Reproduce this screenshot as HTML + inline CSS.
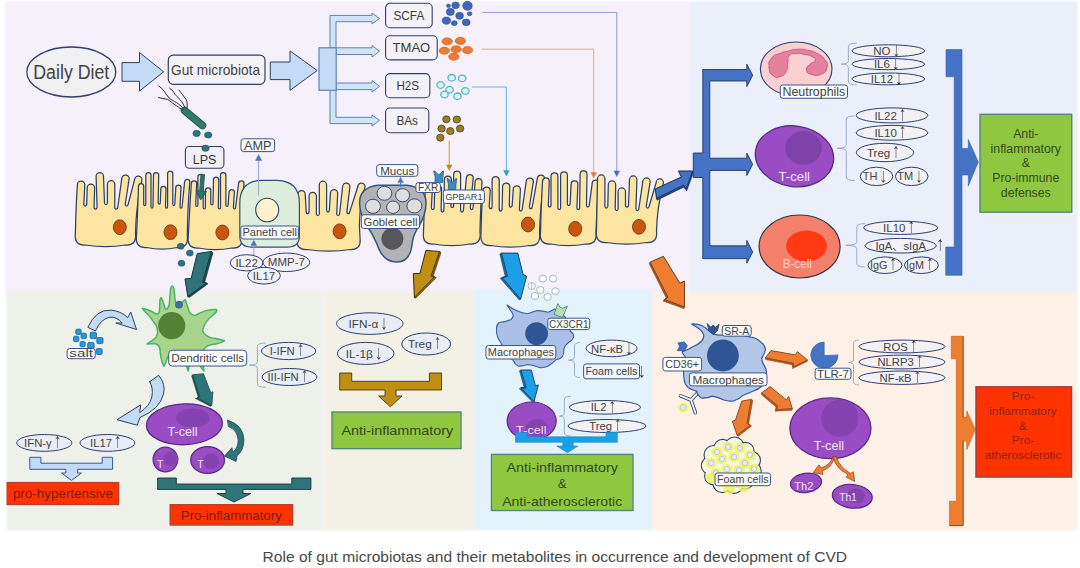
<!DOCTYPE html>
<html lang="en"><head><meta charset="utf-8"><title>Role of gut microbiotas and their metabolites in CVD</title>
<style>html,body{margin:0;padding:0;background:#fff;}svg{display:block;}</style></head>
<body>
<svg width="1080" height="568" viewBox="0 0 1080 568" font-family='"Liberation Sans", "Noto Sans CJK SC", sans-serif'>
<rect x="0" y="0" width="1080" height="568" rx="0" fill="#ffffff" stroke="none" stroke-width="1"/>
<defs><filter id="soft" x="-2%" y="-2%" width="104%" height="104%"><feGaussianBlur stdDeviation="1.1"/></filter></defs>
<g filter="url(#soft)">
<rect x="5" y="1.5" width="1072.5" height="292.5" rx="0" fill="#f5f0f9" stroke="none" stroke-width="1"/>
<rect x="690" y="1.5" width="387.5" height="290.3" rx="0" fill="#ebeff9" stroke="none" stroke-width="1"/>
<rect x="6.5" y="292.7" width="315" height="237.8" rx="0" fill="#eef1ea" stroke="none" stroke-width="1"/>
<rect x="321.5" y="292.2" width="3" height="238.3" rx="0" fill="#f1f1ec" stroke="none" stroke-width="1"/>
<rect x="324.5" y="291.4" width="150" height="239.1" rx="0" fill="#f3f0e5" stroke="none" stroke-width="1"/>
<rect x="474.5" y="290.2" width="177.5" height="240.1" rx="0" fill="#e3f2fb" stroke="none" stroke-width="1"/>
<rect x="652" y="293" width="425.5" height="237.3" rx="0" fill="#fdf0e6" stroke="none" stroke-width="1"/>
</g>
<ellipse cx="71.3" cy="72" rx="44.5" ry="25" fill="#f1f0f3" stroke="#2f3f66" stroke-width="1.3" />
<text x="71.3" y="79.2" font-size="19.5" fill="#444" text-anchor="middle"  textLength="76" lengthAdjust="spacingAndGlyphs">Daily Diet</text>
<polygon points="122,62.6 139.5,62.6 139.5,52.5 163.6,71.8 139.5,91 139.5,81.3 122,81.3" fill="#c3dbf5" stroke="#2f3f66" stroke-width="1" stroke-linejoin="round" />
<rect x="168.3" y="55.2" width="96.7" height="29.1" rx="5" fill="#f4f1f7" stroke="#2f3f66" stroke-width="1.2"/>
<text x="215.5" y="74.8" font-size="14.5" fill="#444" text-anchor="middle"  textLength="89" lengthAdjust="spacingAndGlyphs">Gut microbiota</text>
<polygon points="270.3,62 290,62 290,50.9 317.2,70.5 290,90.3 290,79.6 270.3,79.6" fill="#c3dbf5" stroke="#2f3f66" stroke-width="1" stroke-linejoin="round" />
<polygon points="330,48 330,15.4 372,15.4 372,13 379.5,18.5 372,24 372,21.7 336,21.7 336,48" fill="#d3e3f6" stroke="#5f82b8" stroke-width="1" stroke-linejoin="round" />
<polygon points="330,90 330,123.6 372,123.6 372,126 379.5,120.4 372,115 372,117.3 336,117.3 336,90" fill="#d3e3f6" stroke="#5f82b8" stroke-width="1" stroke-linejoin="round" />
<polygon points="336,47.8 372,47.8 372,45.5 379.5,51.2 372,57 372,54.5 336,54.5" fill="#d3e3f6" stroke="#5f82b8" stroke-width="1" stroke-linejoin="round" />
<polygon points="336,83 372,83 372,80.6 379.5,86.3 372,92 372,89.6 336,89.6" fill="#d3e3f6" stroke="#5f82b8" stroke-width="1" stroke-linejoin="round" />
<rect x="319" y="47.8" width="17.2" height="42.5" rx="0" fill="#c3dbf5" stroke="#5f82b8" stroke-width="1.2"/>
<rect x="385.6" y="3.3" width="46.6" height="24.5" rx="4.5" fill="#f4f1f7" stroke="#2f3f66" stroke-width="1.1"/>
<text x="408.9" y="20.1" font-size="12.8" fill="#3a3a3a" text-anchor="middle"  textLength="30.8" lengthAdjust="spacingAndGlyphs">SCFA</text>
<rect x="385.6" y="35.8" width="51.6" height="24.1" rx="4.5" fill="#f4f1f7" stroke="#2f3f66" stroke-width="1.1"/>
<text x="411.4" y="52.4" font-size="12.8" fill="#3a3a3a" text-anchor="middle"  textLength="37.8" lengthAdjust="spacingAndGlyphs">TMAO</text>
<rect x="385.6" y="73.6" width="44.2" height="24.1" rx="4.5" fill="#f4f1f7" stroke="#2f3f66" stroke-width="1.1"/>
<text x="407.7" y="90.2" font-size="12.8" fill="#3a3a3a" text-anchor="middle"  textLength="22.6" lengthAdjust="spacingAndGlyphs">H2S</text>
<rect x="385.6" y="108" width="43.2" height="24.8" rx="4.5" fill="#f4f1f7" stroke="#2f3f66" stroke-width="1.1"/>
<text x="407.2" y="125" font-size="12.8" fill="#3a3a3a" text-anchor="middle"  textLength="21.6" lengthAdjust="spacingAndGlyphs">BAs</text>
<ellipse cx="467.5" cy="5.8" rx="4.8" ry="4.5" fill="#3f66b8" stroke="#2d4f9a" stroke-width="0.6" />
<ellipse cx="455.6" cy="5.3" rx="3.8" ry="3.4" fill="#3f66b8" stroke="#2d4f9a" stroke-width="0.6" />
<ellipse cx="448.5" cy="5.8" rx="2" ry="1.8" fill="#3f66b8" stroke="#2d4f9a" stroke-width="0.6" />
<ellipse cx="450.3" cy="11.9" rx="4" ry="3.6" fill="#3f66b8" stroke="#2d4f9a" stroke-width="0.6" />
<ellipse cx="459.6" cy="15.8" rx="3.9" ry="3.5" fill="#3f66b8" stroke="#2d4f9a" stroke-width="0.6" />
<ellipse cx="469.6" cy="13.7" rx="2.3" ry="2" fill="#3f66b8" stroke="#2d4f9a" stroke-width="0.6" />
<ellipse cx="446.4" cy="20.6" rx="4.2" ry="3.6" fill="#3f66b8" stroke="#2d4f9a" stroke-width="0.6" />
<ellipse cx="454.3" cy="23.2" rx="2.9" ry="2.4" fill="#3f66b8" stroke="#2d4f9a" stroke-width="0.6" />
<ellipse cx="466.2" cy="22.4" rx="3.9" ry="3.3" fill="#3f66b8" stroke="#2d4f9a" stroke-width="0.6" />
<ellipse cx="447.2" cy="41.4" rx="5.2" ry="3.6" fill="#ee7a30" stroke="#c9601c" stroke-width="0.6" />
<ellipse cx="460.4" cy="40.9" rx="5.2" ry="3.6" fill="#ee7a30" stroke="#c9601c" stroke-width="0.6" />
<ellipse cx="444.3" cy="50.7" rx="5.2" ry="3.6" fill="#ee7a30" stroke="#c9601c" stroke-width="0.6" />
<ellipse cx="456.1" cy="49.3" rx="5.2" ry="3.6" fill="#ee7a30" stroke="#c9601c" stroke-width="0.6" />
<ellipse cx="467.5" cy="50.1" rx="5.2" ry="3.6" fill="#ee7a30" stroke="#c9601c" stroke-width="0.6" />
<ellipse cx="453.8" cy="56.7" rx="5.2" ry="3.6" fill="#ee7a30" stroke="#c9601c" stroke-width="0.6" />
<ellipse cx="451.7" cy="77.8" rx="3.7" ry="3.3" fill="#def5f8" stroke="#4fb6ca" stroke-width="1.3" />
<ellipse cx="462.2" cy="78.4" rx="3.7" ry="3.3" fill="#def5f8" stroke="#4fb6ca" stroke-width="1.3" />
<ellipse cx="440.6" cy="85" rx="3.7" ry="3.3" fill="#def5f8" stroke="#4fb6ca" stroke-width="1.3" />
<ellipse cx="449.6" cy="89.7" rx="3.7" ry="3.3" fill="#def5f8" stroke="#4fb6ca" stroke-width="1.3" />
<ellipse cx="465.4" cy="91" rx="3.7" ry="3.3" fill="#def5f8" stroke="#4fb6ca" stroke-width="1.3" />
<ellipse cx="444.5" cy="94.5" rx="3.7" ry="3.3" fill="#def5f8" stroke="#4fb6ca" stroke-width="1.3" />
<ellipse cx="457.5" cy="96.3" rx="3.7" ry="3.3" fill="#def5f8" stroke="#4fb6ca" stroke-width="1.3" />
<ellipse cx="446.4" cy="119.3" rx="3.7" ry="3.5" fill="#9a7d22" stroke="#4f4018" stroke-width="0.8" />
<ellipse cx="456.9" cy="119.5" rx="3.7" ry="3.5" fill="#9a7d22" stroke="#4f4018" stroke-width="0.8" />
<ellipse cx="460.1" cy="128.5" rx="3.7" ry="3.5" fill="#9a7d22" stroke="#4f4018" stroke-width="0.8" />
<ellipse cx="450.3" cy="131.1" rx="3.7" ry="3.5" fill="#9a7d22" stroke="#4f4018" stroke-width="0.8" />
<ellipse cx="441.6" cy="128.5" rx="3.7" ry="3.5" fill="#9a7d22" stroke="#4f4018" stroke-width="0.8" />
<ellipse cx="440.3" cy="137.7" rx="3.7" ry="3.5" fill="#9a7d22" stroke="#4f4018" stroke-width="0.8" />
<path d="M482.3 12.4 L616.8 12.4 L616.8 171" fill="none" stroke="#8b9bd0" stroke-width="1" stroke-linejoin="round" stroke-linecap="round" />
<polygon points="614,171 619.6,171 616.8,176.5" fill="#4a6fc0" stroke="#4a6fc0" stroke-width="0.5" stroke-linejoin="round" />
<path d="M482.3 49.2 L593.7 49.2 L593.7 172.5" fill="none" stroke="#f0a878" stroke-width="1" stroke-linejoin="round" stroke-linecap="round" />
<polygon points="590.9,172.5 596.5,172.5 593.7,178" fill="#ee7a30" stroke="#ee7a30" stroke-width="0.5" stroke-linejoin="round" />
<path d="M472.3 87 L506.4 87 L506.4 170.5" fill="none" stroke="#62b4e0" stroke-width="1" stroke-linejoin="round" stroke-linecap="round" />
<polygon points="503.6,170.5 509.2,170.5 506.4,176" fill="#2b9bd8" stroke="#2b9bd8" stroke-width="0.5" stroke-linejoin="round" />
<path d="M449.2 141.5 L449.2 165" fill="none" stroke="#c9a035" stroke-width="1" stroke-linejoin="round" stroke-linecap="round" />
<polygon points="446.4,165 452,165 449.2,170.5" fill="#b98d1c" stroke="#b98d1c" stroke-width="0.5" stroke-linejoin="round" />
<path d="M85.4 245 Q73.8 245.8 75.4 233 Q75.9 206 77.4 184.7 A3.7 3.7 0 0 1 84.8 184.7 L83.8 204.5 A1.5 2.1 0 0 0 86.7 204.5 L87.2 187.7 A3.7 3.7 0 0 1 94.6 187.7 L94.1 207 A1.5 2.1 0 0 0 97.1 207 L96.1 176.3 A3.7 3.7 0 0 1 103.5 176.3 L104.5 203 A1.5 2.1 0 0 0 107.4 203 L107.4 184.2 A3.7 3.7 0 0 1 114.8 184.2 L114.8 207 A1.5 2.1 0 0 0 117.8 207 L121.8 178.7 A3.7 3.7 0 0 1 129.2 178.7 L125.2 204.5 A1.5 2.1 0 0 0 128.1 204.5 L134.6 179.7 A3.7 3.7 0 0 1 142 179.7 Q136 206 135.5 233 Q137.1 245.8 125.5 245 Q105.5 248.2 85.4 245 Z" fill="#fbe5a0" stroke="#2f3f66" stroke-width="1.25" stroke-linejoin="round" stroke-linecap="round" />
<ellipse cx="119.8" cy="227.2" rx="6.5" ry="7.4" fill="#c9560f" stroke="#7a3a10" stroke-width="0.9" />
<path d="M146.5 247.5 Q134.9 248.3 136.5 235.5 Q138 205 138.5 186.2 A2.6 2.6 0 0 1 143.7 186.2 L143.7 204 A1 1.5 0 0 0 145.8 204 L145.8 175.1 A2.6 2.6 0 0 1 151 175.1 L151 206.5 A1 1.5 0 0 0 153 206.5 L153.5 175.1 A2.6 2.6 0 0 1 158.7 175.1 L158.2 202.5 A1 1.5 0 0 0 160.3 202.5 L160.8 189 A2.6 2.6 0 0 1 166 189 L165.5 206.5 A1 1.5 0 0 0 167.6 206.5 L167.6 173.6 A2.6 2.6 0 0 1 172.8 173.6 L172.8 204 A1 1.5 0 0 0 174.8 204 L175.8 187.6 A2.6 2.6 0 0 1 181 187.6 L180 206.5 A1 1.5 0 0 0 182.1 206.5 L184.6 182 A2.6 2.6 0 0 1 189.8 182 Q187.8 205 187.3 235.5 Q188.9 248.3 177.3 247.5 Q161.9 250.7 146.5 247.5 Z" fill="#fbe5a0" stroke="#2f3f66" stroke-width="1.25" stroke-linejoin="round" stroke-linecap="round" />
<ellipse cx="170.5" cy="232.2" rx="6.5" ry="7.4" fill="#c9560f" stroke="#7a3a10" stroke-width="0.9" />
<path d="M198.3 248 Q186.7 248.8 188.3 236 Q189.8 206 191.3 183.5 A2.7 2.7 0 0 1 196.7 183.5 L195.7 204.9 A1.1 1.5 0 0 0 197.9 204.9 L197.9 176.6 A2.7 2.7 0 0 1 203.2 176.6 L203.2 207.4 A1.1 1.5 0 0 0 205.4 207.4 L205.4 190.5 A2.7 2.7 0 0 1 210.8 190.5 L210.8 203.4 A1.1 1.5 0 0 0 213 203.4 L213.5 179.4 A2.7 2.7 0 0 1 218.8 179.4 L218.3 207.4 A1.1 1.5 0 0 0 220.5 207.4 L220.5 175.2 A2.7 2.7 0 0 1 225.9 175.2 L225.9 204.9 A1.1 1.5 0 0 0 228.1 204.9 L229.1 191.7 A2.7 2.7 0 0 1 234.4 191.7 L233.4 207.4 A1.1 1.5 0 0 0 235.6 207.4 L238.6 183.5 A2.7 2.7 0 0 1 244 183.5 Q241.5 206 242 236 Q243.6 248.8 232 248 Q215.2 251.2 198.3 248 Z" fill="#fbe5a0" stroke="#2f3f66" stroke-width="1.25" stroke-linejoin="round" stroke-linecap="round" />
<ellipse cx="222.4" cy="232.5" rx="6.5" ry="7.4" fill="#c9560f" stroke="#7a3a10" stroke-width="0.9" />
<path d="M307 249.5 Q295.4 250.3 297 237.5 Q298.5 213 298 194.2 A3.6 3.6 0 0 1 305.2 194.2 L306.2 211.6 A1.4 2 0 0 0 309.1 211.6 L309.1 196 A3.6 3.6 0 0 1 316.4 196 L316.4 214 A1.5 2 0 0 0 319.3 214 L319.3 184.9 A3.6 3.6 0 0 1 326.6 184.9 L326.6 210.1 A1.4 2 0 0 0 329.4 210.1 L330.4 193.2 A3.6 3.6 0 0 1 337.7 193.2 L336.7 214 A1.5 2 0 0 0 339.6 214 L342.6 186.7 A3.6 3.6 0 0 1 349.9 186.7 L346.9 211.6 A1.4 2 0 0 0 349.8 211.6 L357.8 186.7 A3.6 3.6 0 0 1 365 186.7 Q357.5 213 360 237.5 Q361.6 250.3 350 249.5 Q328.5 252.7 307 249.5 Z" fill="#fbe5a0" stroke="#2f3f66" stroke-width="1.25" stroke-linejoin="round" stroke-linecap="round" />
<ellipse cx="339.6" cy="231.3" rx="6.5" ry="7.4" fill="#c9560f" stroke="#7a3a10" stroke-width="0.9" />
<path d="M433.5 244 Q421.9 244.8 423.5 232 Q424 209 425.5 187.5 A3.5 3.5 0 0 1 432.4 187.5 L431.4 207.6 A1.4 1.9 0 0 0 434.2 207.6 L434.7 188.5 A3.5 3.5 0 0 1 441.6 188.5 L441.1 210.1 A1.4 1.9 0 0 0 443.9 210.1 L444.4 179.5 A3.5 3.5 0 0 1 451.4 179.5 L450.9 206.1 A1.4 1.9 0 0 0 453.6 206.1 L453.6 174.5 A3.5 3.5 0 0 1 460.6 174.5 L460.6 210.1 A1.4 1.9 0 0 0 463.4 210.1 L466.4 177.5 A3.5 3.5 0 0 1 473.3 177.5 L470.3 207.6 A1.4 1.9 0 0 0 473.1 207.6 L475.1 181.5 A3.5 3.5 0 0 1 482 181.5 Q480.5 209 480 232 Q481.6 244.8 470 244 Q451.8 247.2 433.5 244 Z" fill="#fbe5a0" stroke="#2f3f66" stroke-width="1.25" stroke-linejoin="round" stroke-linecap="round" />
<path d="M491 245.5 Q479.4 246.3 481 233.5 Q481.5 208 483 190.6 A3.6 3.6 0 0 1 490.2 190.6 L489.2 206.6 A1.4 2 0 0 0 492.1 206.6 L492.1 179.6 A3.6 3.6 0 0 1 499.2 179.6 L499.2 209.1 A1.4 2 0 0 0 502.1 209.1 L502.6 186.6 A3.6 3.6 0 0 1 509.8 186.6 L509.3 205.1 A1.4 2 0 0 0 512.2 205.1 L513.2 189.6 A3.6 3.6 0 0 1 520.4 189.6 L519.4 209.1 A1.4 2 0 0 0 522.2 209.1 L526.2 181.6 A3.6 3.6 0 0 1 533.4 181.6 L529.4 206.6 A1.4 2 0 0 0 532.3 206.6 L537.3 178.6 A3.6 3.6 0 0 1 544.5 178.6 Q540 208 539.5 233.5 Q541.1 246.3 529.5 245.5 Q510.2 248.7 491 245.5 Z" fill="#fbe5a0" stroke="#2f3f66" stroke-width="1.25" stroke-linejoin="round" stroke-linecap="round" />
<ellipse cx="528" cy="224.5" rx="6.5" ry="7.4" fill="#c9560f" stroke="#7a3a10" stroke-width="0.9" />
<path d="M550.5 244 Q538.9 244.8 540.5 232 Q541 207 542.5 181.4 A3.4 3.4 0 0 1 549.3 181.4 L548.3 205.6 A1.4 1.9 0 0 0 551 205.6 L551 176.4 A3.4 3.4 0 0 1 557.9 176.4 L557.9 208.1 A1.4 1.9 0 0 0 560.6 208.1 L560.6 175.4 A3.4 3.4 0 0 1 567.4 175.4 L567.4 204.1 A1.4 1.9 0 0 0 570.1 204.1 L571.1 184.4 A3.4 3.4 0 0 1 577.9 184.4 L576.9 208.1 A1.4 1.9 0 0 0 579.6 208.1 L580.1 174.4 A3.4 3.4 0 0 1 587 174.4 L586.5 205.6 A1.4 1.9 0 0 0 589.2 205.6 L592.2 183.4 A3.4 3.4 0 0 1 599 183.4 Q596.5 207 596 232 Q597.6 244.8 586 244 Q568.2 247.2 550.5 244 Z" fill="#fbe5a0" stroke="#2f3f66" stroke-width="1.25" stroke-linejoin="round" stroke-linecap="round" />
<ellipse cx="575.2" cy="228.8" rx="6.5" ry="7.4" fill="#c9560f" stroke="#7a3a10" stroke-width="0.9" />
<path d="M606.5 242.5 Q594.9 243.3 596.5 230.5 Q597 208 597.5 178.7 A3.7 3.7 0 0 1 604.9 178.7 L604.9 206.5 A1.5 2.1 0 0 0 607.8 206.5 L608.3 184.7 A3.7 3.7 0 0 1 615.7 184.7 L615.2 209 A1.5 2.1 0 0 0 618.1 209 L618.1 191.7 A3.7 3.7 0 0 1 625.5 191.7 L625.5 205 A1.5 2.1 0 0 0 628.5 205 L629.5 179.7 A3.7 3.7 0 0 1 636.9 179.7 L635.9 209 A1.5 2.1 0 0 0 638.8 209 L642.8 181.7 A3.7 3.7 0 0 1 650.2 181.7 L646.2 206.5 A1.5 2.1 0 0 0 649.1 206.5 L656.1 182.7 A3.7 3.7 0 0 1 663.5 182.7 Q657 208 656.5 230.5 Q658.1 243.3 646.5 242.5 Q626.5 245.7 606.5 242.5 Z" fill="#fbe5a0" stroke="#2f3f66" stroke-width="1.25" stroke-linejoin="round" stroke-linecap="round" />
<ellipse cx="639" cy="226.8" rx="6.5" ry="7.4" fill="#c9560f" stroke="#7a3a10" stroke-width="0.9" />
<path d="M262 180.3 L277 180.3 Q299.4 181 299.4 203 L299.4 236 Q299.4 247.2 287 247.2 L252 247.2 Q239.8 247.2 239.8 236 L239.8 203 Q239.8 181 262 180.3 Z" fill="#deeedd" stroke="#2f4b7c" stroke-width="1.2" stroke-linejoin="round" stroke-linecap="round" />
<ellipse cx="267.2" cy="210" rx="11.5" ry="11.8" fill="#fdf2cc" stroke="#2f3f66" stroke-width="1.1" />
<line x1="258.6" y1="195.5" x2="258.6" y2="158" stroke="#8ea6d2" stroke-width="1"/>
<polygon points="255.6,160.4 261.6,160.4 258.6,154.5" fill="#4a73c0" stroke="#4a73c0" stroke-width="0.5" stroke-linejoin="round" />
<rect x="240.8" y="226" width="57.8" height="13" rx="2.5" fill="#fbfbfd" stroke="#3a5488" stroke-width="1"/>
<text x="269.7" y="236.4" font-size="11.04" fill="#444" text-anchor="middle"  textLength="54.6" lengthAdjust="spacingAndGlyphs">Paneth cell</text>
<rect x="241" y="138.8" width="33.6" height="12.8" rx="2.5" fill="#fbfbfd" stroke="#3a5488" stroke-width="1"/>
<text x="257.8" y="149.7" font-size="12.74" fill="#444" text-anchor="middle"  textLength="27.6" lengthAdjust="spacingAndGlyphs">AMP</text>
<line x1="253.8" y1="255" x2="253.8" y2="244" stroke="#8ea6d2" stroke-width="1"/>
<polygon points="251,245.5 256.6,245.5 253.8,240.3" fill="#4a73c0" stroke="#4a73c0" stroke-width="0.5" stroke-linejoin="round" />
<ellipse cx="246.6" cy="262.8" rx="16.4" ry="8.1" fill="#f3f1f3" stroke="#2f3f70" stroke-width="1" />
<text x="246.6" y="266.9" font-size="11.5" fill="#444" text-anchor="middle" >IL22</text>
<ellipse cx="286.4" cy="262.3" rx="23.4" ry="9.2" fill="#f3f1f3" stroke="#2f3f70" stroke-width="1" />
<text x="286.4" y="266.4" font-size="11.5" fill="#444" text-anchor="middle" >MMP-7</text>
<ellipse cx="264" cy="275.7" rx="16.4" ry="8.4" fill="#f3f1f3" stroke="#2f3f70" stroke-width="1" />
<text x="264" y="279.8" font-size="11.5" fill="#444" text-anchor="middle" >IL17</text>
<path d="M359.6 203 Q359.5 187.5 378 185.3 L407 185.3 Q426 187.5 426 203 Q426 214 419.6 224.8 Q413 235 412.2 243 Q410.5 262 397 262 Q384.5 262 378.9 248.9 Q374 236 367 226 Q359.8 215 359.6 203 Z" fill="#b3b3b7" stroke="#355488" stroke-width="1.5" stroke-linejoin="round" stroke-linecap="round" />
<ellipse cx="384.4" cy="193.3" rx="7.4" ry="7" fill="#dedee0" stroke="#3a4a70" stroke-width="1" />
<ellipse cx="402.6" cy="195.2" rx="7" ry="6.6" fill="#dedee0" stroke="#3a4a70" stroke-width="1" />
<ellipse cx="373" cy="206.3" rx="7.5" ry="7.1" fill="#dedee0" stroke="#3a4a70" stroke-width="1" />
<ellipse cx="393.1" cy="207.2" rx="6.5" ry="6.2" fill="#dedee0" stroke="#3a4a70" stroke-width="1" />
<ellipse cx="414.4" cy="205.9" rx="7.5" ry="7.1" fill="#dedee0" stroke="#3a4a70" stroke-width="1" />
<ellipse cx="392.4" cy="238.7" rx="10.7" ry="10.7" fill="#56565b" stroke="#47474d" stroke-width="0.6" />
<rect x="361.3" y="214.8" width="58.3" height="13.7" rx="2.5" fill="#fbfbfd" stroke="#3a5488" stroke-width="1"/>
<text x="390.5" y="225.7" font-size="11.41" fill="#444" text-anchor="middle"  textLength="53.9" lengthAdjust="spacingAndGlyphs">Goblet cell</text>
<line x1="400.6" y1="187" x2="400.6" y2="181" stroke="#4a73c0" stroke-width="1"/>
<polygon points="397.8,182.6 403.4,182.6 400.6,177.4" fill="#4a73c0" stroke="#4a73c0" stroke-width="0.5" stroke-linejoin="round" />
<rect x="376.7" y="164.6" width="41.1" height="11.7" rx="2.5" fill="#fbfbfd" stroke="#3a5488" stroke-width="1"/>
<text x="397.2" y="174.6" font-size="11.58" fill="#444" text-anchor="middle"  textLength="34.1" lengthAdjust="spacingAndGlyphs">Mucus</text>
<path d="M434 171 Q436.1 171.2 436.9 173.5 Q438.9 175.8 440.8 173.5 Q441.6 171.2 443.7 171 Q442.5 177.3 442.7 182.4 L435 182.4 L435.2 177.3 Z" fill="#3a8cc4" stroke="#1f5f8c" stroke-width="0.8" stroke-linejoin="round" stroke-linecap="round" />
<path d="M447.4 178.5 Q449.4 178.7 450.2 181 Q452 183.2 453.9 181 Q454.7 178.7 456.7 178.5 Q455.6 184.7 455.8 189.8 L448.3 189.8 L448.5 184.7 Z" fill="#3a8cc4" stroke="#1f5f8c" stroke-width="0.8" stroke-linejoin="round" stroke-linecap="round" />
<rect x="415.9" y="182.6" width="24.5" height="9.9" rx="2.5" fill="#fbfbfd" stroke="#3a5488" stroke-width="1"/>
<text x="428.1" y="191.1" font-size="10.05" fill="#444" text-anchor="middle"  textLength="20.1" lengthAdjust="spacingAndGlyphs">FXR</text>
<rect x="443.3" y="190" width="41.1" height="13.5" rx="2.5" fill="#fbfbfd" stroke="#3a5488" stroke-width="1"/>
<text x="463.9" y="200" font-size="9.24" fill="#444" text-anchor="middle"  textLength="37.5" lengthAdjust="spacingAndGlyphs">GPBAR1</text>
<rect x="185.4" y="146.5" width="38.5" height="21.7" rx="4" fill="#f1f0f5" stroke="#2f3f66" stroke-width="1.1"/>
<text x="204.6" y="163.5" font-size="12.5" fill="#333" text-anchor="middle" >LPS</text>
<path d="M184.5 110.5 L202.5 125.5" fill="none" stroke="#25544a" stroke-width="7.6" stroke-linejoin="round" stroke-linecap="round" />
<path d="M184.5 110.5 L202.5 125.5" fill="none" stroke="#2f7d66" stroke-width="6" stroke-linejoin="round" stroke-linecap="round" />
<path d="M183.5 108.5 Q178 103 174.5 101.5 Q169 99.5 166 94 Q163.5 89 159 86" fill="none" stroke="#2a3545" stroke-width="1" stroke-linejoin="round" stroke-linecap="round" />
<path d="M182.5 110 Q176 105.5 172.5 103 Q168 98 162.5 98.5 L158.5 97.5" fill="none" stroke="#2a3545" stroke-width="1" stroke-linejoin="round" stroke-linecap="round" />
<path d="M185 107.5 Q182 100.5 178.5 98 Q174.5 94.5 173 91 L169.5 88" fill="none" stroke="#2a3545" stroke-width="1" stroke-linejoin="round" stroke-linecap="round" />
<path d="M187 108 Q188 101 185 98 Q182 94 180.5 92 L179 90" fill="none" stroke="#2a3545" stroke-width="1" stroke-linejoin="round" stroke-linecap="round" />
<ellipse cx="196.6" cy="133.4" rx="3.7" ry="3.1" fill="#2c7184" stroke="#1f5566" stroke-width="0.6" />
<ellipse cx="208.2" cy="135" rx="3.7" ry="3.1" fill="#2c7184" stroke="#1f5566" stroke-width="0.6" />
<ellipse cx="205.5" cy="148.2" rx="3.7" ry="3.1" fill="#2c7184" stroke="#1f5566" stroke-width="0.6" />
<polygon points="201,174.3 199.6,190.9 196.1,190.6 200.6,200 206.6,191.5 203.2,191.2 204.6,174.7" fill="#2f7276" stroke="#1f4f55" stroke-width="0.8" stroke-linejoin="round" />
<ellipse cx="180.7" cy="246.3" rx="3.4" ry="3" fill="#2c7184" stroke="#1f5566" stroke-width="0.6" />
<ellipse cx="189.8" cy="253.1" rx="3.4" ry="3" fill="#2c7184" stroke="#1f5566" stroke-width="0.6" />
<ellipse cx="181.5" cy="263.3" rx="3.4" ry="3" fill="#2c7184" stroke="#1f5566" stroke-width="0.6" />
<polygon points="197.2,253.6 211.4,251.5 202.7,282.2 206.4,283 187.8,296.7 185,279 191.2,278.3" fill="#2f7479" stroke="#14343a" stroke-width="1" stroke-linejoin="round" />
<polygon points="211.4,251.5 213,252.6 204.6,282.6 208,283.8 189.4,297.4 187.8,296.7 206.4,283 202.7,282.2" fill="#1c4a50" stroke="#14343a" stroke-width="0.6" stroke-linejoin="round" />
<polygon points="425.9,250.4 439.6,251.5 431.2,276.2 434.5,276.7 414.4,297.5 413.3,273.6 419.9,273.6" fill="#bf8f12" stroke="#3a2c0c" stroke-width="1" stroke-linejoin="round" />
<polygon points="439.6,251.5 441,252.6 433,276.6 436.3,277.6 415.6,298.3 414.4,297.5 434.5,276.7 431.2,276.2" fill="#8a6710" stroke="#3a2c0c" stroke-width="0.6" stroke-linejoin="round" />
<polygon points="501.4,253.1 517.8,253.1 523,274.3 526.6,276.2 520.6,299.2 502,277.5 507.3,276.2" fill="#1b9fe6" stroke="#1f3a60" stroke-width="1" stroke-linejoin="round" />
<polygon points="501.4,253.1 499.8,254 505.4,277 500.2,278.3 519.4,300 520.6,299.2 502,277.5 507.3,276.2" fill="#1272b0" stroke="#1f3a60" stroke-width="0.6" stroke-linejoin="round" />
<polygon points="650,262.2 663.4,256.3 679.9,283.2 684.4,281.1 684.4,307.1 664.3,299.7 667.9,297.3" fill="#ee7d31" stroke="#6a3a18" stroke-width="1" stroke-linejoin="round" />
<polygon points="650,262.2 649.3,263.8 666.6,298.6 663,301 684,308.6 684.4,307.1 664.3,299.7 667.9,297.3" fill="#b85a1c" stroke="#6a3a18" stroke-width="0.6" stroke-linejoin="round" />
<polygon points="655.3,188.9 681.4,177 678.4,171 692.7,171 686.4,188.9 683.5,185.3 656.5,198.5" fill="#4472c4" stroke="#182c55" stroke-width="1" stroke-linejoin="round" />
<polygon points="656.5,198.5 657,200.2 683.6,187.2 686.8,190.8 693.4,172.5 692.7,171 686.4,188.9 683.5,185.3" fill="#2a4a8a" stroke="#182c55" stroke-width="0.6" stroke-linejoin="round" />
<polygon points="702.8,69.5 746.8,69.5 746.8,64.2 752.7,75.3 746.8,86.5 746.8,81 709.8,81 709.8,158.2 746.8,158.2 746.8,153 752.7,164.3 746.8,175.5 746.8,170.4 709.8,170.4 709.8,245.8 746.8,245.8 746.8,240.4 752.7,252 746.8,263.2 746.8,258.6 702.8,258.6 702.8,177.5 693.3,177.5 693.3,153 702.8,153" fill="#4472c4" stroke="#1f3766" stroke-width="0.9" stroke-linejoin="round" />
<ellipse cx="796.2" cy="69" rx="35.8" ry="27" fill="#f9cfd2" stroke="#2f3f70" stroke-width="1.1" />
<path d="M769.2 67.5 C768.8 61.7 768 62.7 771.7 58 C775.4 53.3 775.3 55.5 780.3 53.3 C785.3 51.1 780.8 52.7 786.6 51.4 C792.4 50.1 790.3 49.6 797.7 49.3 C805.1 49 802.5 49.2 808.8 50.5 C815.1 51.8 811.4 50.3 816.7 53.3 C822 56.3 821.3 54.9 824.7 59.6 C828.1 64.3 828 62.7 826.9 67.5 C825.8 72.3 826.5 71.6 821.5 73.9 C816.5 76.2 817 75.8 812 74.5 C807 73.2 807.3 73.4 806.6 70 C805.9 66.6 807 67.4 809.8 64.4 C812.6 61.4 814.3 63.6 815 61 C815.7 58.4 815.6 58.8 812 56.6 C808.4 54.4 809.4 55.4 804.1 54.4 C798.8 53.4 801 53 796.1 53.5 C791.2 54 792.1 52.7 789.3 55.8 C786.5 58.9 788.7 57.8 787.8 62.8 C786.9 67.8 789.1 66.2 786.6 70.7 C784.1 75.2 784.8 74.8 780.3 76.4 C775.8 78 776.7 78.5 773 75.5 C769.3 72.5 769.6 73.3 769.2 67.5 Z" fill="#e3819f" stroke="#c2527e" stroke-width="0.9" stroke-linejoin="round" stroke-linecap="round" />
<rect x="780.3" y="85" width="67.2" height="13.3" rx="2.5" fill="#fbfbfd" stroke="#3a5488" stroke-width="1"/>
<text x="813.9" y="96.1" font-size="12.42" fill="#444" text-anchor="middle"  textLength="62.8" lengthAdjust="spacingAndGlyphs">Neutrophils</text>
<path d="M856.4 43.2 Q848.4 43.2 848.4 46.7 L848.4 60.6 Q848.4 64.1 841.4 64.1 Q848.4 64.1 848.4 67.6 L848.4 81.5 Q848.4 85 856.4 85" fill="none" stroke="#8ea6cc" stroke-width="0.9" stroke-linejoin="round" stroke-linecap="round" />
<ellipse cx="888.3" cy="50.8" rx="36.3" ry="6" fill="#f3f1f3" stroke="#2f3f70" stroke-width="1" />
<text x="888.3" y="54.9" font-size="11.5" fill="#444" text-anchor="middle" >NO<tspan font-family='"WenQuanYi Zen Hei", sans-serif' font-size="14" dx="-1.2" dy="1.1">&#8595;</tspan></text>
<ellipse cx="888.3" cy="64.1" rx="36.3" ry="5.6" fill="#f3f1f3" stroke="#2f3f70" stroke-width="1" />
<text x="888.3" y="68.2" font-size="11.5" fill="#444" text-anchor="middle" >IL6<tspan font-family='"WenQuanYi Zen Hei", sans-serif' font-size="14" dx="-1.2" dy="1.1">&#8595;</tspan></text>
<ellipse cx="888.3" cy="78.9" rx="36.3" ry="5.9" fill="#f3f1f3" stroke="#2f3f70" stroke-width="1" />
<text x="888.3" y="83" font-size="11.5" fill="#444" text-anchor="middle" >IL12<tspan font-family='"WenQuanYi Zen Hei", sans-serif' font-size="14" dx="-1.2" dy="1.1">&#8595;</tspan></text>
<ellipse cx="794.5" cy="156.3" rx="39.3" ry="30.3" fill="#9a4cc4" stroke="#5a2a8a" stroke-width="1.35" transform="rotate(8 794.5 156.3)"/>
<ellipse cx="803.5" cy="148" rx="18.2" ry="16.8" fill="#7f42ab" stroke="none" stroke-width="1" />
<text x="794.3" y="181.4" font-size="12" fill="#f3e8fa" text-anchor="middle"  textLength="31.5" lengthAdjust="spacingAndGlyphs">T-cell</text>
<path d="M854.3 116 Q846.3 116 846.3 119.5 L846.3 144.8 Q846.3 148.2 837.3 148.2 Q846.3 148.2 846.3 151.8 L846.3 177 Q846.3 180.5 854.3 180.5" fill="none" stroke="#8ea6cc" stroke-width="0.9" stroke-linejoin="round" stroke-linecap="round" />
<ellipse cx="892" cy="115.4" rx="35.8" ry="7.5" fill="#f3f1f3" stroke="#2f3f70" stroke-width="1" />
<text x="892" y="119.5" font-size="11.5" fill="#444" text-anchor="middle" >IL22<tspan font-family='"WenQuanYi Zen Hei", sans-serif' font-size="14" dx="-1.2" dy="0.2">&#8593;</tspan></text>
<ellipse cx="892" cy="132.8" rx="35.8" ry="7.4" fill="#f3f1f3" stroke="#2f3f70" stroke-width="1" />
<text x="892" y="136.9" font-size="11.5" fill="#444" text-anchor="middle" >IL10<tspan font-family='"WenQuanYi Zen Hei", sans-serif' font-size="14" dx="-1.2" dy="0.2">&#8593;</tspan></text>
<ellipse cx="885" cy="152.5" rx="28.6" ry="9.2" fill="#f3f1f3" stroke="#2f3f70" stroke-width="1" />
<text x="885" y="156.6" font-size="11.5" fill="#444" text-anchor="middle" >Treg<tspan font-family='"WenQuanYi Zen Hei", sans-serif' font-size="14" dx="-1.2" dy="0.2">&#8593;</tspan></text>
<ellipse cx="876.5" cy="176.4" rx="16.3" ry="9.2" fill="#f3f1f3" stroke="#2f3f70" stroke-width="1" />
<text x="876.5" y="180.4" font-size="11" fill="#444" text-anchor="middle" >TH<tspan font-family='"WenQuanYi Zen Hei", sans-serif' font-size="14" dx="-1.2" dy="1.1">&#8595;</tspan></text>
<ellipse cx="911.7" cy="176.4" rx="16.3" ry="9.2" fill="#f3f1f3" stroke="#2f3f70" stroke-width="1" />
<text x="911.7" y="180.4" font-size="11" fill="#444" text-anchor="middle" >TM<tspan font-family='"WenQuanYi Zen Hei", sans-serif' font-size="14" dx="-1.2" dy="1.1">&#8595;</tspan></text>
<ellipse cx="799.6" cy="246.5" rx="40.5" ry="31.5" fill="#f3806a" stroke="#3a3045" stroke-width="1.2" />
<ellipse cx="806.5" cy="246" rx="20.4" ry="15.4" fill="#ff3a14" stroke="none" stroke-width="1" />
<text x="797.3" y="267.7" font-size="12" fill="#f9cfc4" text-anchor="middle"  textLength="29.2" lengthAdjust="spacingAndGlyphs">B-cell</text>
<path d="M864.8 223.6 Q856.8 223.6 856.8 227.1 L856.8 241.8 Q856.8 245.3 845.8 245.3 Q856.8 245.3 856.8 248.8 L856.8 263.5 Q856.8 267 864.8 267" fill="none" stroke="#8ea6cc" stroke-width="0.9" stroke-linejoin="round" stroke-linecap="round" />
<ellipse cx="900.7" cy="227.8" rx="37" ry="6.6" fill="#f3f1f3" stroke="#2f3f70" stroke-width="1" />
<text x="900.7" y="231.9" font-size="11.5" fill="#444" text-anchor="middle" >IL10<tspan font-family='"WenQuanYi Zen Hei", sans-serif' font-size="14" dx="-1.2" dy="0.2">&#8593;</tspan></text>
<ellipse cx="900.7" cy="245.7" rx="35.6" ry="7.3" fill="#f3f1f3" stroke="#2f3f70" stroke-width="1" />
<text x="900.7" y="249.7" font-size="11.2" fill="#444" text-anchor="middle" >IgA&#12289;sIgA</text>
<text x="941.5" y="249.5" font-size="11.5" fill="#333" text-anchor="middle" ><tspan font-family='"WenQuanYi Zen Hei", sans-serif' font-size="14" dx="-1.2" dy="0.2">&#8593;</tspan></text>
<ellipse cx="885" cy="265.2" rx="17" ry="8.3" fill="#f3f1f3" stroke="#2f3f70" stroke-width="1" />
<text x="885" y="269.1" font-size="10.8" fill="#444" text-anchor="middle" >IgG<tspan font-family='"WenQuanYi Zen Hei", sans-serif' font-size="14" dx="-1.2" dy="0.2">&#8593;</tspan></text>
<ellipse cx="921.4" cy="265.2" rx="17" ry="8.3" fill="#f3f1f3" stroke="#2f3f70" stroke-width="1" />
<text x="921.4" y="269.1" font-size="10.8" fill="#444" text-anchor="middle" >IgM<tspan font-family='"WenQuanYi Zen Hei", sans-serif' font-size="14" dx="-1.2" dy="0.2">&#8593;</tspan></text>
<polygon points="946,49.6 962,49.6 962,148.5 968.3,148.5 968.3,139.5 978.3,162 968.3,186 968.3,175 962,175 962,275.3 945.7,275.3 945.7,247 954.2,247 954.2,76.8 946,76.8" fill="#4472c4" stroke="#3560ad" stroke-width="0.6" stroke-linejoin="round" />
<rect x="980" y="114.3" width="91.7" height="97.9" rx="0" fill="#8fc840" stroke="#4f8a78" stroke-width="1.4"/>
<text x="1025.8" y="137.8" font-size="12.3" fill="#33481f" text-anchor="middle" >Anti-</text>
<text x="1025.8" y="152.5" font-size="12.3" fill="#33481f" text-anchor="middle" >inflammatory</text>
<text x="1025.8" y="167.2" font-size="12.3" fill="#33481f" text-anchor="middle" >&amp;</text>
<text x="1025.8" y="181.9" font-size="12.3" fill="#33481f" text-anchor="middle" >Pro-immune</text>
<text x="1025.8" y="196.6" font-size="12.3" fill="#33481f" text-anchor="middle" >defenses</text>
<rect x="75.8" y="329.1" width="5.4" height="5.4" rx="1.4" fill="#1e9be0" stroke="#1f5f9a" stroke-width="0.8"/>
<rect x="81.1" y="333.2" width="5.4" height="5.4" rx="1.4" fill="#1e9be0" stroke="#1f5f9a" stroke-width="0.8"/>
<rect x="90.1" y="332.2" width="6.4" height="6.4" rx="1.4" fill="#1e9be0" stroke="#1f5f9a" stroke-width="0.8"/>
<rect x="96.8" y="337.5" width="6.2" height="6.2" rx="1.4" fill="#1e9be0" stroke="#1f5f9a" stroke-width="0.8"/>
<rect x="73.5" y="336.3" width="5.4" height="5.4" rx="1.4" fill="#1e9be0" stroke="#1f5f9a" stroke-width="0.8"/>
<rect x="80" y="341.6" width="5.2" height="5.2" rx="1.4" fill="#1e9be0" stroke="#1f5f9a" stroke-width="0.8"/>
<rect x="87.7" y="342.4" width="6.4" height="6.4" rx="1.4" fill="#1e9be0" stroke="#1f5f9a" stroke-width="0.8"/>
<rect x="96.2" y="348.5" width="6" height="6" rx="1.4" fill="#1e9be0" stroke="#1f5f9a" stroke-width="0.8"/>
<rect x="67.1" y="348.5" width="28.1" height="10.2" rx="2.5" fill="#fbfbfd" stroke="#3a5488" stroke-width="1"/>
<text x="81.2" y="356.9" font-size="11.5" fill="#444" text-anchor="middle"  textLength="23.7" lengthAdjust="spacingAndGlyphs">salt</text>
<path d="M88 327 Q96 309 111 310.2 Q121 311 127.7 317.6 L130.8 312.1 L136.5 329.5 L115.8 323 L122.2 323 Q116.5 316.5 110 317.2 Q101 318.5 95.6 330.6 Z" fill="#c3dbf5" stroke="#2f3f66" stroke-width="1" stroke-linejoin="round" stroke-linecap="round" />
<path d="M170.6 288.5 Q172.2 283.5 173.9 288.5 C174.6 293 174.6 297 175.5 302 Q177 305 180 303.5 Q183 302 185.2 299.5 Q187 305 189 311 Q191 316 196 315 Q206 309 216.5 309.5 Q218 311 213 315 Q204 322 202.6 331 Q205 336 212 338 Q220 339 224.5 340.8 Q220 343.5 212 344.5 Q205 346 203.6 350 Q202 358 204 371 Q199 366 197 357 Q193 353 191 357 Q189.5 364 188.1 371 Q185 364 184 355 Q178 352 172 353 Q168 354 166 362 L163.9 366.5 Q160.5 360 160 349 Q159 344 154 343.5 L147 344 Q152 341 156 337.5 Q159 332 156 325 Q150 316 142.3 308.5 Q148 309 155 313.5 Q158.5 315.5 159.5 311 Q159.8 303 160 299.5 Q161 296 162.2 299.5 Q163.5 304 165.5 309 Q168 310 169.3 304 Q170 296 170.6 288.5 Z" fill="#a9d48c" stroke="#45b56a" stroke-width="1.5" stroke-linejoin="round" stroke-linecap="round" />
<ellipse cx="171.7" cy="325.6" rx="13.6" ry="13.6" fill="#548235" stroke="none" stroke-width="1" />
<ellipse cx="179" cy="304.7" rx="3.6" ry="3.6" fill="#3d72a4" stroke="#2d5580" stroke-width="0.6" />
<rect x="168.7" y="350.2" width="78" height="15.8" rx="3.5" fill="#fbfbfd" stroke="#3a5488" stroke-width="1"/>
<text x="207.7" y="362.3" font-size="11.73" fill="#444" text-anchor="middle"  textLength="73" lengthAdjust="spacingAndGlyphs">Dendritic cells</text>
<path d="M265.4 343 Q257.4 343 257.4 346.5 L257.4 361.6 Q257.4 365.1 249.4 365.1 Q257.4 365.1 257.4 368.6 L257.4 383.8 Q257.4 387.3 265.4 387.3" fill="none" stroke="#8ea6cc" stroke-width="0.9" stroke-linejoin="round" stroke-linecap="round" />
<ellipse cx="288.6" cy="351" rx="27.1" ry="8.6" fill="#e9edf5" stroke="#2f3f70" stroke-width="1" />
<text x="288.6" y="355.1" font-size="11.3" fill="#444" text-anchor="middle" >I-IFN<tspan font-family='"WenQuanYi Zen Hei", sans-serif' font-size="14" dx="-1.2" dy="0.2">&#8593;</tspan></text>
<ellipse cx="289.5" cy="377" rx="27.4" ry="8.5" fill="#e9edf5" stroke="#2f3f70" stroke-width="1" />
<text x="289.5" y="381.1" font-size="11.3" fill="#444" text-anchor="middle" >III-IFN<tspan font-family='"WenQuanYi Zen Hei", sans-serif' font-size="14" dx="-1.2" dy="0.2">&#8593;</tspan></text>
<polygon points="192.8,374.8 203.4,373.7 210.8,392.7 212.9,391.7 211.8,405.4 197,398 199.8,397" fill="#2f7479" stroke="#1d4a50" stroke-width="0.8" stroke-linejoin="round" />
<polygon points="192.8,374.8 191.6,375.8 198.2,397.2 195.4,398.6 210.8,406.4 211.8,405.4 197,398 199.8,397" fill="#1c4a50" stroke="#1d4a50" stroke-width="0.5" stroke-linejoin="round" />
<path d="M149.8 381.7 L158.6 375.3 Q166 384 163.5 394 Q160 409 140 417.5 L137.2 425.2 L117 419.7 L140.8 404.8 L139.6 412.6 Q150 406 151.8 397 Q153.5 388 149.8 381.7 Z" fill="#c3dbf5" stroke="#2f3f66" stroke-width="1" stroke-linejoin="round" stroke-linecap="round" />
<ellipse cx="184.4" cy="424.3" rx="38" ry="20.4" fill="#9a4cc4" stroke="#5a2a8a" stroke-width="1.3" transform="rotate(-2 184.4 424.3)"/>
<ellipse cx="192.8" cy="418.1" rx="17" ry="9.5" fill="#8443b0" stroke="none" stroke-width="1" />
<text x="182.5" y="435.8" font-size="12" fill="#efe2f8" text-anchor="middle"  textLength="30" lengthAdjust="spacingAndGlyphs">T-cell</text>
<ellipse cx="165.4" cy="459.5" rx="12.3" ry="12.3" fill="#9a4cc4" stroke="#5a2a8a" stroke-width="1.25" />
<ellipse cx="170.8" cy="459" rx="7.5" ry="7.5" fill="#8443b0" stroke="none" stroke-width="1" />
<ellipse cx="207.6" cy="460" rx="16.9" ry="13.4" fill="#9a4cc4" stroke="#5a2a8a" stroke-width="1.25" />
<ellipse cx="211" cy="461.2" rx="8" ry="8" fill="#8443b0" stroke="none" stroke-width="1" />
<text x="160.3" y="468" font-size="10.5" fill="#efe2f8" text-anchor="middle" >T</text>
<text x="200.4" y="468" font-size="10.5" fill="#efe2f8" text-anchor="middle" >T</text>
<path d="M227.7 420.2 Q243.5 425 244 440 Q243.5 451 237.2 455.5 L236 461.4 L224.5 456.1 L231.9 447.7 L233 452.2 Q238 448 238.2 440.5 Q237.5 430 228.7 426.6 Z" fill="#2f7479" stroke="#1d4a50" stroke-width="0.8" stroke-linejoin="round" stroke-linecap="round" />
<polygon points="157.6,478 176.3,478 176.3,484 291.8,484 291.8,478 310.9,478 310.9,489.4 243,489.4 243,493.5 251,493.5 234,502 217,493.5 226,493.5 226,489.4 157.6,489.4" fill="#2f7479" stroke="#16353a" stroke-width="0.9" stroke-linejoin="round" />
<rect x="170.2" y="504.7" width="122.4" height="20.3" rx="0" fill="#ff3300" stroke="#b8402e" stroke-width="1.4"/>
<text x="231.3" y="519.6" font-size="13" fill="#7e1c10" text-anchor="middle"  textLength="101" lengthAdjust="spacingAndGlyphs">Pro-inflammatory</text>
<ellipse cx="44.3" cy="442.9" rx="27.6" ry="8.4" fill="#e9edf5" stroke="#2f3f70" stroke-width="1" />
<text x="44.3" y="447" font-size="11.3" fill="#444" text-anchor="middle" >IFN-&#947;<tspan font-family='"WenQuanYi Zen Hei", sans-serif' font-size="14" dx="-1.2" dy="0.2">&#8593;</tspan></text>
<ellipse cx="107.4" cy="442.9" rx="27.4" ry="8.4" fill="#e9edf5" stroke="#2f3f70" stroke-width="1" />
<text x="107.4" y="447" font-size="11.3" fill="#444" text-anchor="middle" >IL17<tspan font-family='"WenQuanYi Zen Hei", sans-serif' font-size="14" dx="-1.2" dy="0.2">&#8593;</tspan></text>
<polygon points="29.8,457.3 40.9,457.3 40.9,463.2 102.2,463.2 102.2,457.3 112.6,457.3 112.6,469.3 77.6,469.3 77.6,473 81.5,473 71.5,480.4 61.6,473 65.8,473 65.8,469.3 29.8,469.3" fill="#c3dbf5" stroke="#3a5a90" stroke-width="1" stroke-linejoin="round" />
<rect x="7.2" y="482.6" width="111.4" height="21.9" rx="0" fill="#ff3300" stroke="#b8402e" stroke-width="1.4"/>
<text x="62.9" y="498" font-size="13" fill="#7e1c10" text-anchor="middle"  textLength="100" lengthAdjust="spacingAndGlyphs">pro-hypertensive</text>
<ellipse cx="369.8" cy="323.6" rx="33.3" ry="10.8" fill="#e9ecf3" stroke="#2f3f70" stroke-width="1" />
<text x="369.8" y="327.8" font-size="11.8" fill="#444" text-anchor="middle" >IFN-&#945;<tspan font-family='"WenQuanYi Zen Hei", sans-serif' font-size="14" dx="-1.2" dy="1.1">&#8595;</tspan></text>
<ellipse cx="365.7" cy="353.4" rx="28.3" ry="11" fill="#e9ecf3" stroke="#2f3f70" stroke-width="1" />
<text x="365.7" y="357.6" font-size="11.8" fill="#444" text-anchor="middle" >IL-1&#946;<tspan font-family='"WenQuanYi Zen Hei", sans-serif' font-size="14" dx="-1.2" dy="1.1">&#8595;</tspan></text>
<ellipse cx="426.2" cy="344" rx="24.4" ry="11" fill="#e9ecf3" stroke="#2f3f70" stroke-width="1" />
<text x="426.2" y="348.2" font-size="11.8" fill="#444" text-anchor="middle" >Treg<tspan font-family='"WenQuanYi Zen Hei", sans-serif' font-size="14" dx="-1.2" dy="0.2">&#8593;</tspan></text>
<polygon points="339.7,373 351.7,373 351.7,381.3 429.4,381.3 429.4,373 441.5,373 441.5,390 396,390 396,396 402,396 390.3,406.8 378.6,396 385,396 385,390 339.7,390" fill="#bf8f14" stroke="#4a3a10" stroke-width="0.9" stroke-linejoin="round" />
<rect x="332" y="412" width="129" height="36.6" rx="0" fill="#8fc840" stroke="#4f8a78" stroke-width="1.4"/>
<text x="397.3" y="435" font-size="13.3" fill="#33481f" text-anchor="middle"  textLength="111.6" lengthAdjust="spacingAndGlyphs">Anti-inflammatory</text>
<ellipse cx="542.8" cy="278.6" rx="3.7" ry="3.5" fill="#fafdfd" stroke="#a5bcc4" stroke-width="1" />
<ellipse cx="553" cy="278.6" rx="3.7" ry="3.5" fill="#fafdfd" stroke="#a5bcc4" stroke-width="1" />
<ellipse cx="531.7" cy="286" rx="3.7" ry="3.5" fill="#fafdfd" stroke="#a5bcc4" stroke-width="1" />
<ellipse cx="540.3" cy="290" rx="3.7" ry="3.5" fill="#fafdfd" stroke="#a5bcc4" stroke-width="1" />
<ellipse cx="555.5" cy="291.3" rx="3.7" ry="3.5" fill="#fafdfd" stroke="#a5bcc4" stroke-width="1" />
<ellipse cx="535" cy="296" rx="3.7" ry="3.5" fill="#fafdfd" stroke="#a5bcc4" stroke-width="1" />
<ellipse cx="547.6" cy="297" rx="3.7" ry="3.5" fill="#fafdfd" stroke="#a5bcc4" stroke-width="1" />
<line x1="531.7" y1="283" x2="531.7" y2="289" stroke="#a5bcc4" stroke-width="0.8"/>
<path d="M507 305 Q512 309 516.5 310.6 Q522 313.5 527.6 313.8 Q533 312 537 310.6 Q543 311 548.2 312.2 Q552 311 554.5 309 Q560 311 565.6 317.7 Q569 324 570.4 331.2 Q574.5 334 573.5 337.6 Q572 341 568.8 342.3 Q565 345 564 348.7 Q564 353 562.4 356.6 Q560 359.5 556 359.8 Q552 363.5 548.2 366 Q544 368 540.2 367.7 Q533 365 527.6 364.5 Q522 366.5 518 366 Q514.5 364 514 361.3 Q505 353 500.6 342.3 Q496 336 496.6 329.6 Q496 325 499 322.5 Q506 322 511 319.5 Q515 316 511.7 312.2 Q509 308 507 305 Z" fill="#aac0e8" stroke="#3b5ea6" stroke-width="1.1" stroke-linejoin="round" stroke-linecap="round" />
<path d="M558 304 Q560 308.5 562.4 308.2 Q565 308 567.5 305.9 L562.4 317.5 L554.5 314.5 Z" fill="#b9dcb0" stroke="#4f9a80" stroke-width="1" stroke-linejoin="round" stroke-linecap="round" />
<ellipse cx="536.6" cy="333.6" rx="11.4" ry="11.4" fill="#2f5597" stroke="none" stroke-width="1" />
<rect x="547.8" y="318.2" width="41.9" height="11.4" rx="2.5" fill="#fbfbfd" stroke="#3a5488" stroke-width="1"/>
<text x="568.8" y="327.5" font-size="10.01" fill="#444" text-anchor="middle"  textLength="39.5" lengthAdjust="spacingAndGlyphs">CX3CR1</text>
<rect x="486" y="345.5" width="69.8" height="13.5" rx="2.5" fill="#fbfbfd" stroke="#3a5488" stroke-width="1"/>
<text x="520.9" y="356.1" font-size="10.93" fill="#444" text-anchor="middle"  textLength="66.2" lengthAdjust="spacingAndGlyphs">Macrophages</text>
<path d="M579.5 342.6 Q574.5 342.6 574.5 346.1 L574.5 356.6 Q574.5 360.1 568.5 360.1 Q574.5 360.1 574.5 363.6 L574.5 374 Q574.5 377.5 579.5 377.5" fill="none" stroke="#8ea6cc" stroke-width="0.9" stroke-linejoin="round" stroke-linecap="round" />
<ellipse cx="611.6" cy="348.4" rx="25.5" ry="8.3" fill="#f3f1f3" stroke="#2f3f70" stroke-width="1" />
<text x="613.5" y="352.5" font-size="11.3" fill="#444" text-anchor="middle" >NF-&#954;B<tspan font-family='"WenQuanYi Zen Hei", sans-serif' font-size="14" dx="-1.2" dy="1.1">&#8595;</tspan></text>
<rect x="583.6" y="363.9" width="55.9" height="14.9" rx="2.5" fill="#f0f5fb" stroke="#3a5488" stroke-width="1"/>
<text x="611.5" y="375.2" font-size="10.74" fill="#444" text-anchor="middle"  textLength="51.9" lengthAdjust="spacingAndGlyphs">Foam cells</text>
<text x="643" y="375.5" font-size="12" fill="#333" text-anchor="middle" ><tspan font-family='"WenQuanYi Zen Hei", sans-serif' font-size="14" dx="-1.2" dy="1.1">&#8595;</tspan></text>
<polygon points="520.8,370 531.4,370 535.4,385.8 538.4,384.9 534,401.7 520.8,387.6 526.1,387.6" fill="#1b9fe6" stroke="#1f3a60" stroke-width="0.9" stroke-linejoin="round" />
<polygon points="520.8,370 519.4,370.8 524.4,388.4 519.2,388.6 533,402.6 534,401.7 520.8,387.6 526.1,387.6" fill="#1272b0" stroke="#1f3a60" stroke-width="0.5" stroke-linejoin="round" />
<ellipse cx="531.7" cy="421" rx="24.5" ry="19" fill="#9a4cc4" stroke="#5a2a8a" stroke-width="1.2" />
<ellipse cx="537" cy="428" rx="11" ry="9" fill="#8443b0" stroke="none" stroke-width="1" />
<text x="531.3" y="434.4" font-size="11" fill="#efe2f8" text-anchor="middle"  textLength="30.5" lengthAdjust="spacingAndGlyphs">T-cell</text>
<path d="M570.3 396.3 Q564.3 396.3 564.3 399.8 L564.3 412.6 Q564.3 416.1 559.3 416.1 Q564.3 416.1 564.3 419.6 L564.3 432.5 Q564.3 436 570.3 436" fill="none" stroke="#8ea6cc" stroke-width="0.9" stroke-linejoin="round" stroke-linecap="round" />
<ellipse cx="605" cy="407.3" rx="35.5" ry="6.8" fill="#f3f1f3" stroke="#2f3f70" stroke-width="1" />
<text x="605" y="411.4" font-size="11.3" fill="#444" text-anchor="middle" >IL2<tspan font-family='"WenQuanYi Zen Hei", sans-serif' font-size="14" dx="-1.2" dy="0.2">&#8593;</tspan></text>
<ellipse cx="607" cy="426" rx="39" ry="6.5" fill="#f3f1f3" stroke="#2f3f70" stroke-width="1" />
<text x="607" y="430.1" font-size="11.3" fill="#444" text-anchor="middle" >Treg<tspan font-family='"WenQuanYi Zen Hei", sans-serif' font-size="14" dx="-1.2" dy="0.2">&#8593;</tspan></text>
<polygon points="515.6,432.4 527.3,432.4 527.3,436.8 606,436.8 606,432.2 617.4,432.2 617.4,442.3 573.2,442.3 573.2,446 578,446 567.4,452.8 556.8,446 562.8,446 562.8,442.3 515.6,442.3" fill="#1b9fe6" stroke="#1787c8" stroke-width="0.6" stroke-linejoin="round" />
<rect x="491.5" y="454.4" width="141.5" height="56.1" rx="0" fill="#8fc840" stroke="#4f8a78" stroke-width="1.4"/>
<text x="562.2" y="472.3" font-size="13.3" fill="#33481f" text-anchor="middle"  textLength="111.4" lengthAdjust="spacingAndGlyphs">Anti-inflammatory</text>
<text x="562.2" y="488.2" font-size="13.3" fill="#33481f" text-anchor="middle" >&amp;</text>
<text x="562.2" y="505.6" font-size="13.3" fill="#33481f" text-anchor="middle"  textLength="120" lengthAdjust="spacingAndGlyphs">Anti-atherosclerotic</text>
<path d="M699.5 391 L691 400 M691 400 L680.6 395.8 M691 400 L695.4 412.7" fill="none" stroke="#2f4470" stroke-width="3.6" stroke-linejoin="round" stroke-linecap="round" />
<path d="M700.5 390 L691 400 M691 400 L680.3 395.7 M691 400 L695.5 413" fill="none" stroke="#eef2fb" stroke-width="1.9" stroke-linejoin="round" stroke-linecap="round" stroke-linecap="butt"/>
<ellipse cx="683.1" cy="407.5" rx="6" ry="6" fill="#fbfb9a" stroke="none" stroke-width="1" />
<ellipse cx="683.1" cy="407.5" rx="4.6" ry="4.6" fill="#f4f46a" stroke="none" stroke-width="1" />
<ellipse cx="683.1" cy="407.5" rx="3" ry="3" fill="#dfe6f8" stroke="#b8c6ea" stroke-width="0.8" />
<path d="M691.9 323.9 Q697 323.5 701.6 325.5 Q705 327 708.4 330.3 Q713 335 720 335.2 Q736 333.5 751 337.1 Q757 338 760.6 341.9 Q765 345 765.5 349.7 Q764.5 354 761.6 358.4 Q762 362.5 764.5 366.1 Q767 370 766.4 373.9 Q766 381 762.6 385.5 Q758.5 389.5 752.9 391.3 Q748 393.5 743.2 395.2 Q739 399.5 733.5 401 Q728.5 401.5 723.9 400 Q718 397 712.3 396.1 Q707 398.5 701.6 398.1 Q697.5 395.5 696.8 391.3 Q692 390 688.1 387.4 Q684.5 384 684.2 379.7 Q682.5 368 685.2 356.5 Q682 354 682.3 351.6 Q688 350 692.9 346.8 Q698.5 344.5 701.6 341 Q704.5 338 703.5 334.2 Q702 331 698.7 328.4 Q695 326 691.9 323.9 Z" fill="#b2c7e8" stroke="#3557a0" stroke-width="1.2" stroke-linejoin="round" stroke-linecap="round" />
<ellipse cx="722.9" cy="355.5" rx="15.9" ry="15.9" fill="#2f5597" stroke="none" stroke-width="1" />
<path d="M707.4 323.7 L710.9 327.3 L713.2 325 L715.6 327.3 L719 323.9 L717.6 330.5 L713.3 334.8 L709 330.5 Z" fill="#2f5597" stroke="#1f3f7a" stroke-width="0.8" stroke-linejoin="round" stroke-linecap="round" />
<rect x="722.3" y="325.5" width="28.9" height="10.7" rx="2.5" fill="#fbfbfd" stroke="#3a5488" stroke-width="1"/>
<text x="736.8" y="334.5" font-size="10.42" fill="#444" text-anchor="middle"  textLength="24.9" lengthAdjust="spacingAndGlyphs">SR-A</text>
<path d="M678.4 342.9 L684.2 341.9 L687.3 345.8 L684.4 350.8 L677.4 350.6 L679.6 346.8 Z" fill="#3d6fc4" stroke="#274f94" stroke-width="0.8" stroke-linejoin="round" stroke-linecap="round" />
<rect x="662.9" y="357.4" width="38.7" height="13.6" rx="2.5" fill="#fbfbfd" stroke="#3a5488" stroke-width="1"/>
<text x="682.2" y="368" font-size="10.73" fill="#444" text-anchor="middle"  textLength="33.7" lengthAdjust="spacingAndGlyphs">CD36+</text>
<rect x="689.4" y="372.9" width="77.6" height="13" rx="2.5" fill="#fbfbfd" stroke="#3a5488" stroke-width="1"/>
<text x="728.2" y="383.6" font-size="11.82" fill="#444" text-anchor="middle"  textLength="71.6" lengthAdjust="spacingAndGlyphs">Macrophages</text>
<polygon points="771.1,350.6 795.4,354.9 797.5,351.7 807.5,360.1 793.3,366.9 793.3,363.3 765.2,358" fill="#ee7d31" stroke="#7a4420" stroke-width="0.9" stroke-linejoin="round" />
<polygon points="765.2,358 765.6,359.6 792.3,364.8 792.6,368.6 807.2,361.4 807.5,360.1 793.3,366.9 793.3,363.3" fill="#b85a1c" stroke="#7a4420" stroke-width="0.5" stroke-linejoin="round" />
<polygon points="761.6,392.9 770.1,386.6 786.3,399.9 788.7,396.5 792.3,408.7 776.4,409.8 777.5,405.6" fill="#ee7d31" stroke="#7a4420" stroke-width="0.9" stroke-linejoin="round" />
<polygon points="761.6,392.9 761.2,394.5 776,407 775,411.2 792,410.2 792.3,408.7 776.4,409.8 777.5,405.6" fill="#b85a1c" stroke="#7a4420" stroke-width="0.5" stroke-linejoin="round" />
<polygon points="741.8,401.1 751.3,399.4 747.1,423.3 749.9,425.4 737.2,435.4 732.3,421.2 735.5,420.1" fill="#ee7d31" stroke="#7a4420" stroke-width="0.9" stroke-linejoin="round" />
<polygon points="751.3,399.4 752.8,400.2 748.8,423.4 751.6,426 738.5,436.2 737.2,435.4 749.9,425.4 747.1,423.3" fill="#b85a1c" stroke="#7a4420" stroke-width="0.5" stroke-linejoin="round" />
<path d="M824.2 355.2 L824.2 342 A13.6 13.2 0 1 0 838 355.2 Z" fill="#4472c4" stroke="#2f5aa8" stroke-width="0.6" stroke-linejoin="round" stroke-linecap="round" />
<rect x="815.1" y="368.2" width="35.9" height="11.1" rx="2.5" fill="#fbfbfd" stroke="#3a5488" stroke-width="1"/>
<text x="833" y="377.8" font-size="11.322000000000024" fill="#444" text-anchor="middle"  textLength="31.9" lengthAdjust="spacingAndGlyphs">TLR-7</text>
<path d="M858.5 340 Q853.5 340 853.5 343.5 L853.5 359 Q853.5 362.5 848.5 362.5 Q853.5 362.5 853.5 366 L853.5 381.5 Q853.5 385 858.5 385" fill="none" stroke="#8ea6cc" stroke-width="0.9" stroke-linejoin="round" stroke-linecap="round" />
<ellipse cx="902" cy="346.5" rx="43" ry="6.4" fill="#f3f1f3" stroke="#2f3f70" stroke-width="1" />
<text x="902" y="350.6" font-size="11.3" fill="#444" text-anchor="middle" >ROS<tspan font-family='"WenQuanYi Zen Hei", sans-serif' font-size="14" dx="-1.2" dy="0.2">&#8593;</tspan></text>
<ellipse cx="902" cy="362" rx="43" ry="6.9" fill="#f3f1f3" stroke="#2f3f70" stroke-width="1" />
<text x="902" y="366.1" font-size="11.3" fill="#444" text-anchor="middle" >NLRP3<tspan font-family='"WenQuanYi Zen Hei", sans-serif' font-size="14" dx="-1.2" dy="0.2">&#8593;</tspan></text>
<ellipse cx="902" cy="377.7" rx="43" ry="6.7" fill="#f3f1f3" stroke="#2f3f70" stroke-width="1" />
<text x="902" y="381.8" font-size="11.3" fill="#444" text-anchor="middle" >NF-&#954;B<tspan font-family='"WenQuanYi Zen Hei", sans-serif' font-size="14" dx="-1.2" dy="0.2">&#8593;</tspan></text>
<ellipse cx="830.4" cy="428.3" rx="40.5" ry="30.4" fill="#9a4cc4" stroke="#5a2a8a" stroke-width="1.35" />
<ellipse cx="839.8" cy="418.3" rx="18.5" ry="18.5" fill="#8443b0" stroke="none" stroke-width="1" />
<text x="829" y="450.2" font-size="12.4" fill="#efe2f8" text-anchor="middle"  textLength="30.3" lengthAdjust="spacingAndGlyphs">T-cell</text>
<path d="M832.8 457 Q830.5 465 821 468 L819 464.8 L813.1 472.7 L823 474.4 L822.2 471 Q832 467.5 834.2 458 Z" fill="#ee7d31" stroke="#7a4420" stroke-width="0.7" stroke-linejoin="round" stroke-linecap="round" />
<path d="M833 457 Q836.5 469.5 847.5 474 L846.4 477.2 L854.6 481.5 L853.4 471.8 L850.4 473.4 Q840.5 468 836.2 457 Z" fill="#ee7d31" stroke="#7a4420" stroke-width="0.7" stroke-linejoin="round" stroke-linecap="round" />
<ellipse cx="806" cy="482.8" rx="15.6" ry="9.6" fill="#9a4cc4" stroke="#5a2a8a" stroke-width="1.25" transform="rotate(-8 806 482.8)"/>
<text x="803.8" y="490.3" font-size="11.5" fill="#efe2f8" text-anchor="middle"  textLength="19" lengthAdjust="spacingAndGlyphs">Th2</text>
<ellipse cx="852.3" cy="496.3" rx="20" ry="11.8" fill="#9a4cc4" stroke="#5a2a8a" stroke-width="1.25" transform="rotate(6 852.3 496.3)"/>
<ellipse cx="856" cy="496" rx="9" ry="7.5" fill="#8443b0" stroke="none" stroke-width="1" />
<text x="848" y="500.6" font-size="10.8" fill="#efe2f8" text-anchor="middle"  textLength="17.6" lengthAdjust="spacingAndGlyphs">Th1</text>
<ellipse cx="734.5" cy="446.5" rx="9.2" ry="9.2" fill="#f5f7e2" stroke="#2f4470" stroke-width="1.7" />
<ellipse cx="745.4" cy="451.1" rx="8.4" ry="8.4" fill="#f5f7e2" stroke="#2f4470" stroke-width="1.7" />
<ellipse cx="751.8" cy="460.3" rx="8.4" ry="8.4" fill="#f5f7e2" stroke="#2f4470" stroke-width="1.7" />
<ellipse cx="751.7" cy="471.2" rx="9.2" ry="9.2" fill="#f5f7e2" stroke="#2f4470" stroke-width="1.7" />
<ellipse cx="745.1" cy="480.3" rx="8.4" ry="8.4" fill="#f5f7e2" stroke="#2f4470" stroke-width="1.7" />
<ellipse cx="734.2" cy="484.7" rx="8.4" ry="8.4" fill="#f5f7e2" stroke="#2f4470" stroke-width="1.7" />
<ellipse cx="722.3" cy="483.1" rx="9.2" ry="9.2" fill="#f5f7e2" stroke="#2f4470" stroke-width="1.7" />
<ellipse cx="713.3" cy="475.9" rx="8.4" ry="8.4" fill="#f5f7e2" stroke="#2f4470" stroke-width="1.7" />
<ellipse cx="710" cy="465.5" rx="8.4" ry="8.4" fill="#f5f7e2" stroke="#2f4470" stroke-width="1.7" />
<ellipse cx="713.5" cy="455" rx="9.2" ry="9.2" fill="#f5f7e2" stroke="#2f4470" stroke-width="1.7" />
<ellipse cx="722.6" cy="448" rx="8.4" ry="8.4" fill="#f5f7e2" stroke="#2f4470" stroke-width="1.7" />
<ellipse cx="731.3" cy="465.6" rx="24" ry="22" fill="#f5f7e2" stroke="none" stroke-width="1" />
<ellipse cx="734.5" cy="446.5" rx="8.9" ry="8.9" fill="#f5f7e2" stroke="none" stroke-width="1" />
<ellipse cx="745.4" cy="451.1" rx="8.1" ry="8.1" fill="#f5f7e2" stroke="none" stroke-width="1" />
<ellipse cx="751.8" cy="460.3" rx="8.1" ry="8.1" fill="#f5f7e2" stroke="none" stroke-width="1" />
<ellipse cx="751.7" cy="471.2" rx="8.9" ry="8.9" fill="#f5f7e2" stroke="none" stroke-width="1" />
<ellipse cx="745.1" cy="480.3" rx="8.1" ry="8.1" fill="#f5f7e2" stroke="none" stroke-width="1" />
<ellipse cx="734.2" cy="484.7" rx="8.1" ry="8.1" fill="#f5f7e2" stroke="none" stroke-width="1" />
<ellipse cx="722.3" cy="483.1" rx="8.9" ry="8.9" fill="#f5f7e2" stroke="none" stroke-width="1" />
<ellipse cx="713.3" cy="475.9" rx="8.1" ry="8.1" fill="#f5f7e2" stroke="none" stroke-width="1" />
<ellipse cx="710" cy="465.5" rx="8.1" ry="8.1" fill="#f5f7e2" stroke="none" stroke-width="1" />
<ellipse cx="713.5" cy="455" rx="8.9" ry="8.9" fill="#f5f7e2" stroke="none" stroke-width="1" />
<ellipse cx="722.6" cy="448" rx="8.1" ry="8.1" fill="#f5f7e2" stroke="none" stroke-width="1" />
<ellipse cx="717" cy="452" rx="5.6" ry="5.3" fill="#f0f05a" stroke="none" stroke-width="0" opacity="0.8"/>
<ellipse cx="728" cy="447" rx="5.6" ry="5.3" fill="#f0f05a" stroke="none" stroke-width="0" opacity="0.8"/>
<ellipse cx="740" cy="448" rx="5.6" ry="5.3" fill="#f0f05a" stroke="none" stroke-width="0" opacity="0.8"/>
<ellipse cx="750" cy="455" rx="5.6" ry="5.3" fill="#f0f05a" stroke="none" stroke-width="0" opacity="0.8"/>
<ellipse cx="711" cy="463" rx="5.6" ry="5.3" fill="#f0f05a" stroke="none" stroke-width="0" opacity="0.8"/>
<ellipse cx="722" cy="459" rx="5.6" ry="5.3" fill="#f0f05a" stroke="none" stroke-width="0" opacity="0.8"/>
<ellipse cx="734" cy="457" rx="5.6" ry="5.3" fill="#f0f05a" stroke="none" stroke-width="0" opacity="0.8"/>
<ellipse cx="745" cy="463" rx="5.6" ry="5.3" fill="#f0f05a" stroke="none" stroke-width="0" opacity="0.8"/>
<ellipse cx="754" cy="469" rx="5.6" ry="5.3" fill="#f0f05a" stroke="none" stroke-width="0" opacity="0.8"/>
<ellipse cx="716" cy="473" rx="5.6" ry="5.3" fill="#f0f05a" stroke="none" stroke-width="0" opacity="0.8"/>
<ellipse cx="727" cy="469" rx="5.6" ry="5.3" fill="#f0f05a" stroke="none" stroke-width="0" opacity="0.8"/>
<ellipse cx="739" cy="470" rx="5.6" ry="5.3" fill="#f0f05a" stroke="none" stroke-width="0" opacity="0.8"/>
<ellipse cx="749" cy="479" rx="5.6" ry="5.3" fill="#f0f05a" stroke="none" stroke-width="0" opacity="0.8"/>
<ellipse cx="722" cy="482" rx="5.6" ry="5.3" fill="#f0f05a" stroke="none" stroke-width="0" opacity="0.8"/>
<ellipse cx="735" cy="483" rx="5.6" ry="5.3" fill="#f0f05a" stroke="none" stroke-width="0" opacity="0.8"/>
<ellipse cx="711" cy="478" rx="5.6" ry="5.3" fill="#f0f05a" stroke="none" stroke-width="0" opacity="0.8"/>
<ellipse cx="744" cy="487" rx="5.6" ry="5.3" fill="#f0f05a" stroke="none" stroke-width="0" opacity="0.8"/>
<ellipse cx="729" cy="489" rx="5.6" ry="5.3" fill="#f0f05a" stroke="none" stroke-width="0" opacity="0.8"/>
<ellipse cx="717" cy="452" rx="2.6" ry="2.6" fill="#e8edfb" stroke="#b4c4ec" stroke-width="0.9" />
<ellipse cx="728" cy="447" rx="2.6" ry="2.6" fill="#e8edfb" stroke="#b4c4ec" stroke-width="0.9" />
<ellipse cx="740" cy="448" rx="2.6" ry="2.6" fill="#e8edfb" stroke="#b4c4ec" stroke-width="0.9" />
<ellipse cx="750" cy="455" rx="2.6" ry="2.6" fill="#e8edfb" stroke="#b4c4ec" stroke-width="0.9" />
<ellipse cx="711" cy="463" rx="2.6" ry="2.6" fill="#e8edfb" stroke="#b4c4ec" stroke-width="0.9" />
<ellipse cx="722" cy="459" rx="2.6" ry="2.6" fill="#e8edfb" stroke="#b4c4ec" stroke-width="0.9" />
<ellipse cx="734" cy="457" rx="2.6" ry="2.6" fill="#e8edfb" stroke="#b4c4ec" stroke-width="0.9" />
<ellipse cx="745" cy="463" rx="2.6" ry="2.6" fill="#e8edfb" stroke="#b4c4ec" stroke-width="0.9" />
<ellipse cx="754" cy="469" rx="2.6" ry="2.6" fill="#e8edfb" stroke="#b4c4ec" stroke-width="0.9" />
<ellipse cx="716" cy="473" rx="2.6" ry="2.6" fill="#e8edfb" stroke="#b4c4ec" stroke-width="0.9" />
<ellipse cx="727" cy="469" rx="2.6" ry="2.6" fill="#e8edfb" stroke="#b4c4ec" stroke-width="0.9" />
<ellipse cx="739" cy="470" rx="2.6" ry="2.6" fill="#e8edfb" stroke="#b4c4ec" stroke-width="0.9" />
<ellipse cx="749" cy="479" rx="2.6" ry="2.6" fill="#e8edfb" stroke="#b4c4ec" stroke-width="0.9" />
<ellipse cx="722" cy="482" rx="2.6" ry="2.6" fill="#e8edfb" stroke="#b4c4ec" stroke-width="0.9" />
<ellipse cx="735" cy="483" rx="2.6" ry="2.6" fill="#e8edfb" stroke="#b4c4ec" stroke-width="0.9" />
<rect x="715" y="473" width="55.6" height="12.7" rx="2.5" fill="#fbfbfd" stroke="#3a5488" stroke-width="1"/>
<text x="742.8" y="483.1" font-size="10.67" fill="#444" text-anchor="middle"  textLength="51.6" lengthAdjust="spacingAndGlyphs">Foam cells</text>
<polygon points="951.3,336.3 963,336.3 963,417 966.8,417 966.8,411 975.3,429.5 966.8,449.5 966.8,441 963,441 963,525.4 949.6,525.4 949.6,501.4 956.4,501.4 956.4,358.8 951.3,358.8" fill="#ee7d31" stroke="#c8641e" stroke-width="0.7" stroke-linejoin="round" />
<path d="M963.2 336.5 L963.2 416.8 M963.2 441.2 L963.2 525.6 L949.6 525.6" fill="none" stroke="#8a4a1c" stroke-width="0.9" stroke-linejoin="round" stroke-linecap="round" />
<rect x="976" y="386.8" width="95.5" height="90.2" rx="0" fill="#ff3300" stroke="#a04040" stroke-width="1.5"/>
<text x="1023" y="400.3" font-size="11.8" fill="#8a2415" text-anchor="middle" >Pro-</text>
<text x="1023" y="415" font-size="11.8" fill="#8a2415" text-anchor="middle" >inflammatory</text>
<text x="1023" y="429.7" font-size="11.8" fill="#8a2415" text-anchor="middle" >&amp;</text>
<text x="1023" y="444.4" font-size="11.8" fill="#8a2415" text-anchor="middle" >Pro-</text>
<text x="1023" y="459.1" font-size="11.8" fill="#8a2415" text-anchor="middle" >atherosclerotic</text>
<text x="554.8" y="562.3" font-size="15.2" fill="#484848" text-anchor="middle"  textLength="584.5" lengthAdjust="spacingAndGlyphs">Role of gut microbiotas and their metabolites in occurrence and development of CVD</text>
</svg>
</body></html>
